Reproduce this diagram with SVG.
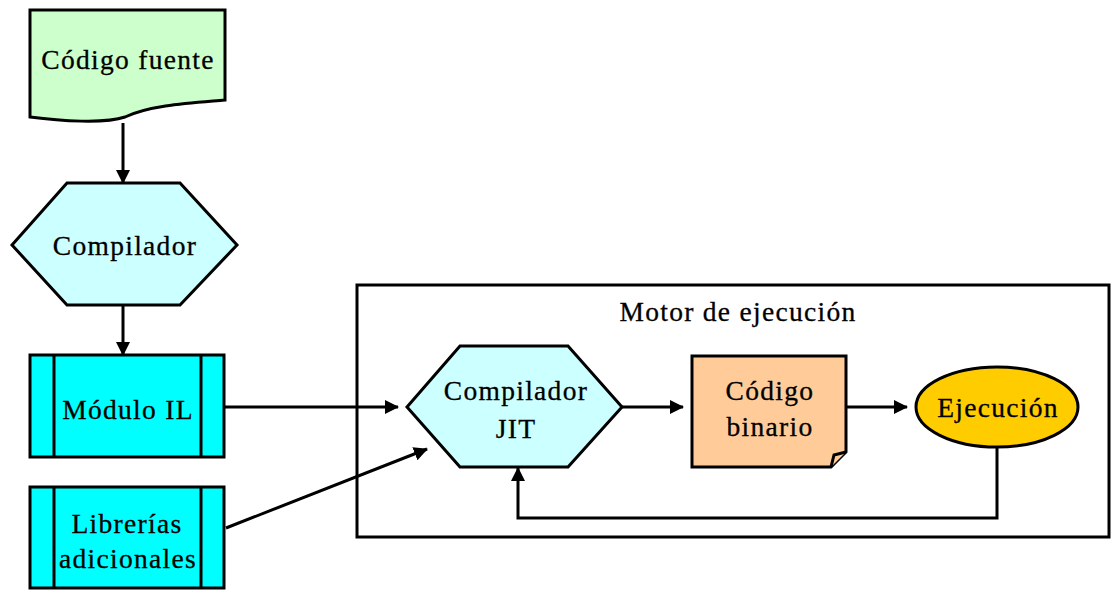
<svg xmlns="http://www.w3.org/2000/svg" width="1112" height="590" viewBox="0 0 1112 590">
<defs>
<style>
.s{stroke:#000;stroke-width:3;stroke-linejoin:miter}
.t{font-family:"Liberation Serif","Times New Roman",serif;font-size:27.5px;letter-spacing:1.3px;text-anchor:middle;fill:#000;stroke:#000;stroke-width:0.3px}
.c{fill:none;stroke:#000;stroke-width:3}
</style>
<marker id="a" viewBox="0 0 14 14" refX="13" refY="7" markerWidth="14" markerHeight="14" markerUnits="userSpaceOnUse" orient="auto">
<path d="M0,0 L14,7 L0,14 Z" fill="#000"/>
</marker>
</defs>
<rect width="1112" height="590" fill="#fff"/>
<g id="motor">
<rect x="357" y="285" width="752" height="252" fill="none" class="s"/>
<text class="t" x="738" y="321">Motor de ejecución</text>
</g>
<g id="connectors">
<line class="c" x1="123" y1="123" x2="123" y2="183" marker-end="url(#a)"/>
<line class="c" x1="123" y1="305" x2="123" y2="355" marker-end="url(#a)"/>
<line class="c" x1="224" y1="407" x2="398" y2="407" marker-end="url(#a)"/>
<line class="c" x1="226" y1="528" x2="427" y2="449" marker-end="url(#a)"/>
<line class="c" x1="622" y1="407" x2="683" y2="407" marker-end="url(#a)"/>
<line class="c" x1="846" y1="407" x2="907" y2="407" marker-end="url(#a)"/>
<polyline class="c" points="997,447 997,518 518,518 518,468" marker-end="url(#a)"/>
</g>
<g id="codigo-fuente">
<path class="s" fill="#ccffcc" d="M30,10 L225,10 L225,100 C190,103 150,105 125,117 C105,124 60,121 30,117 Z"/>
<text class="t" x="128" y="69">Código fuente</text>
</g>
<g id="compilador">
<polygon class="s" fill="#ccffff" points="12,245 67,183 180,183 237,245 180,305 67,305"/>
<text class="t" x="125" y="255">Compilador</text>
</g>
<g id="modulo-il">
<rect class="s" fill="#00ffff" x="30" y="355" width="194" height="102"/>
<line class="s" x1="54" y1="355" x2="54" y2="457"/>
<line class="s" x1="201" y1="355" x2="201" y2="457"/>
<text class="t" x="128" y="419">Módulo IL</text>
</g>
<g id="librerias">
<rect class="s" fill="#00ffff" x="30" y="487" width="194" height="101"/>
<line class="s" x1="54" y1="487" x2="54" y2="588"/>
<line class="s" x1="201" y1="487" x2="201" y2="588"/>
<text class="t" x="127" y="533">Librerías</text>
<text class="t" x="128" y="568">adicionales</text>
</g>
<g id="compilador-jit">
<polygon class="s" fill="#ccffff" points="407,407 460,346 568,346 622,407 568,467 460,467"/>
<text class="t" x="516" y="400">Compilador</text>
<text class="t" x="516" y="438">JIT</text>
</g>
<g id="codigo-binario">
<path class="s" fill="#ffcc99" d="M692,356 L846,356 L846,452 L831,467 L692,467 Z"/>
<path class="s" fill="#ffcc99" d="M846,452 L834,455 L831,467"/>
<text class="t" x="770" y="400">Código</text>
<text class="t" x="770" y="436">binario</text>
</g>
<g id="ejecucion">
<ellipse class="s" fill="#ffcc00" cx="997" cy="407" rx="81" ry="40"/>
<text class="t" x="998" y="417">Ejecución</text>
</g>
</svg>
